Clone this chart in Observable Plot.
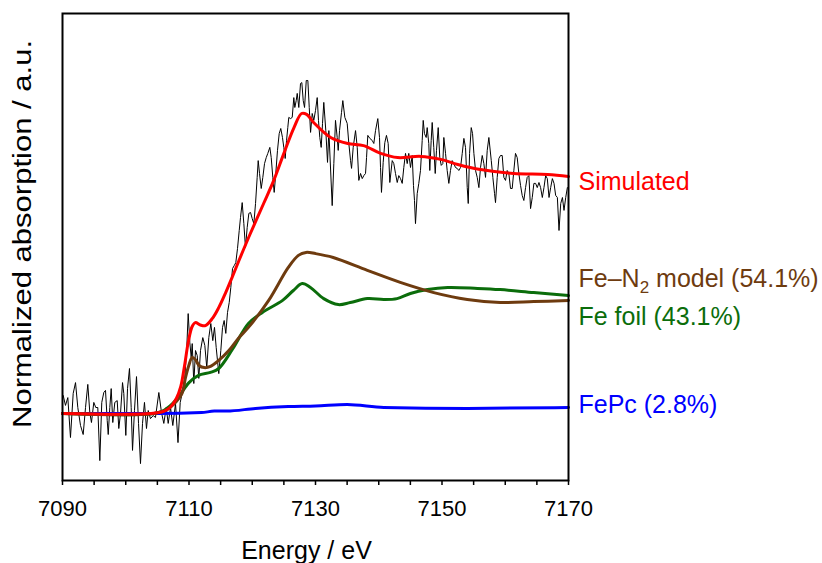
<!DOCTYPE html>
<html><head><meta charset="utf-8">
<script src="https://cdn.jsdelivr.net/npm/d3@7"></script>
<script src="https://cdn.jsdelivr.net/npm/@observablehq/plot@0.6"></script>
<style>body{margin:0;background:#fff;}</style>
</head><body><div id="chart"></div>
<script>
// Tick values (eV)
const energyTicks = [7090, 7110, 7130, 7150, 7170];
const minorTicks = [7090,7095,7100,7105,7110,7115,7120,7125,7130,7135,7140,7145,7150,7155,7160,7165,7170];

// Series labels and their label anchor levels (normalized units)
const seriesNames = ["Simulated", "Fe–N2 model (54.1%)", "Fe foil (43.1%)", "FePc (2.8%)"];
const labelMu = [0.77, 0.447, 0.323, 0.03];
const seriesColors = ["#ff0000", "#6e3b0f", "#0b6d0b", "#0000ff"];

// Measured spectrum [energy eV, normalized absorption]
const measured = [
[7090.11,0.060],[7090.47,0.027],[7090.84,0.053],[7091.26,-0.080],[7091.69,0.067],[7092.06,0.103],[7092.42,0.020],[7092.85,-0.040],[7093.27,-0.070],[7093.64,0.020],
[7094.0,0.097],[7094.32,0.003],[7094.58,-0.030],[7094.95,0.037],[7095.26,0.020],[7095.58,0.020],[7095.90,-0.157],[7096.21,0.037],[7096.53,0.070],[7096.80,0.077],
[7097.07,-0.023],[7097.23,-0.070],[7097.48,0.020],[7097.70,0.083],[7097.95,-0.030],[7098.27,0.037],[7098.65,0.043],[7098.90,-0.050],[7099.17,0],[7099.49,0.103],
[7099.69,0.067],[7100.01,-0.073],[7100.28,0.083],[7100.59,0.150],[7100.86,0.020],[7101.07,-0.123],[7101.38,0.010],[7101.70,0.123],[7102.02,-0.033],[7102.33,-0.167],
[7102.65,-0.033],[7102.96,0.037],[7103.28,-0.050],[7103.55,0.010],[7103.91,-0.017],[7104.34,-0.007],[7104.70,-0.013],
[7105.23,0.070],[7105.65,0.003],[7106.02,-0.033],[7106.40,0.020],[7106.71,-0.033],[7107.08,0.020],[7107.44,-0.040],[7107.87,0.033],[7108.26,-0.097],[7108.61,0.037],
[7109.02,0.077],[7109.34,0.120],[7109.65,0.220],[7109.87,0.333],[7110.13,0.237],[7110.35,0.187],[7110.51,0.233],[7110.76,0.100],[7111.03,0.210],[7111.30,0.193],
[7111.55,0.117],[7111.82,0.210],[7112.18,0.253],[7112.50,0.227],[7112.81,0.153],[7113.13,0.253],[7113.45,0.300],[7113.76,0.243],[7114.03,0.287],[7114.30,0.220],
[7114.71,0.133],[7115.03,0.210],[7115.30,0.287],[7115.56,0.310],[7115.82,0.267],[7116.09,0.337],[7116.36,0.370],[7116.61,0.420],[7116.88,0.483],[7117.15,0.493],
[7117.40,0.503],[7117.67,0.550],[7117.94,0.610],[7118.14,0.653],
[7118.41,0.703],[7118.67,0.633],[7118.93,0.553],[7119.20,0.620],[7119.46,0.667],[7119.73,0.670],[7119.99,0.650],[7120.25,0.633],[7120.52,0.700],[7120.78,0.787],
[7120.94,0.843],[7121.15,0.800],[7121.42,0.750],[7121.67,0.787],[7121.94,0.833],[7122.21,0.853],[7122.46,0.867],[7122.78,0.887],[7123.0,0.853],[7123.25,0.787],
[7123.47,0.737],[7123.72,0.800],[7123.99,0.877],[7124.26,0.933],[7124.51,0.950],[7124.78,0.920],[7124.99,0.887],[7125.21,0.850],[7125.42,0.910],[7125.62,0.953],
[7125.78,0.987],[7126.05,0.983],[7126.32,0.987],[7126.57,1.053],[7126.73,1.020],[7126.95,1.043],[7127.11,1.067],[7127.36,1.020],[7127.63,1.100],[7127.84,1.103],
[7128.06,1.043],[7128.27,1.020],[7128.54,1.110],[7128.79,1.110],[7129.01,1.020],[7129.22,0.937],[7129.48,1.000],[7129.73,0.977],[7130.0,1.010],[7130.27,1.053],
[7130.47,0.977],[7130.68,0.920],[7130.90,0.887],[7131.11,0.967],[7131.31,1.037],
[7131.63,0.943],[7131.90,0.837],[7132.11,0.943],[7132.64,0.693],[7132.90,0.833],[7133.16,0.977],[7133.43,0.920],[7133.59,0.877],[7133.80,0.943],[7134.11,1.003],
[7134.32,1.043],[7134.64,0.987],[7135.01,0.967],[7135.27,0.900],[7135.54,0.843],[7135.70,0.817],[7135.96,0.887],[7136.33,0.943],[7136.60,0.887],[7136.85,0.777],
[7137.12,0.800],[7137.39,0.783],[7137.64,0.793],[7137.91,0.800],[7138.07,0.853],[7138.27,0.927],[7138.59,0.917],[7138.97,0.910],[7139.22,0.900],[7139.49,0.943],
[7139.85,0.983],[7140.12,0.920],[7140.28,0.820],[7140.43,0.737],[7140.70,0.837],[7140.96,0.903],[7141.22,0.927],[7141.49,0.900],[7141.75,0.770],[7142.13,0.843],
[7142.38,0.833],[7142.65,0.800],[7142.92,0.770],[7143.17,0.793],[7143.44,0.783],[7143.71,0.767],
[7143.96,0.820],[7144.23,0.867],[7144.50,0.833],[7144.75,0.867],[7145.02,0.820],[7145.29,0.860],[7145.49,0.760],[7145.65,0.710],[7145.81,0.633],[7146.08,0.733],
[7146.33,0.767],[7146.60,0.810],[7146.87,0.910],[7147.03,0.977],[7147.23,0.933],[7147.50,0.920],[7147.66,0.953],[7147.91,0.900],[7148.07,0.810],[7148.29,0.910],
[7148.45,0.970],[7148.70,0.887],[7148.93,0.800],[7149.13,0.877],[7149.40,0.953],[7149.65,0.853],[7149.88,0.827],[7150.13,0.833],[7150.29,0.920],[7150.56,0.867],
[7150.82,0.810],[7151.08,0.767],[7151.34,0.810],[7151.61,0.843],[7151.87,0.833],[7152.13,0.820],[7152.40,0.817],[7152.66,0.810],[7152.93,0.820],[7153.20,0.867],
[7153.46,0.917],[7153.72,0.887],[7153.99,0.753],[7154.15,0.700],[7154.36,0.867],[7154.62,0.953],[7154.83,0.933],[7155.04,0.867],[7155.30,0.810],[7155.57,0.787],
[7155.83,0.753],[7156.09,0.820],[7156.36,0.860],[7156.62,0.833],[7156.88,0.787],[7157.15,0.877],[7157.41,0.920],
[7157.79,0.843],[7158.04,0.787],[7158.31,0.733],[7158.46,0.703],[7158.73,0.787],[7158.99,0.850],[7159.25,0.860],[7159.52,0.860],[7159.78,0.787],[7160.04,0.777],
[7160.31,0.810],[7160.57,0.800],[7160.83,0.750],[7161.10,0.750],[7161.36,0.810],[7161.62,0.867],[7161.89,0.853],[7162.15,0.800],[7162.42,0.760],[7162.68,0.727],
[7162.94,0.710],[7163.21,0.753],[7163.47,0.787],[7163.74,0.793],[7164.0,0.683],[7164.27,0.720],[7164.53,0.767],[7164.80,0.767],[7165.06,0.753],[7165.33,0.770],
[7165.59,0.753],[7165.86,0.720],[7166.12,0.753],[7166.39,0.793],[7166.65,0.783],[7166.92,0.720],[7167.18,0.753],[7167.45,0.783],[7167.71,0.767],[7167.97,0.727],
[7168.24,0.720],[7168.50,0.610],[7168.77,0.700],[7169.04,0.720],[7169.29,0.677],[7169.56,0.720],[7169.82,0.753]
];

// Simulated fit
const simulated = [
[7090,0],[7104,0],[7106,0.007],[7107,0.02],[7108,0.05],[7108.7,0.09],[7109.3,0.16],[7109.9,0.24],[7110.5,0.29],[7111.0,0.303],
[7111.8,0.295],[7112.6,0.293],[7113.7,0.317],[7114.7,0.353],[7115.8,0.403],[7116.8,0.453],[7117.9,0.51],[7119.7,0.6],[7121.8,0.7],[7123.4,0.777],
[7125,0.867],[7126.6,0.953],[7127.8,1.0],[7128.6,0.997],[7129.7,0.97],[7132.4,0.92],[7135.1,0.9],[7137.6,0.893],[7140.3,0.867],[7143,0.853],
[7146.6,0.857],[7149.8,0.847],[7152.5,0.83],[7156.1,0.813],[7161.3,0.8],[7166.7,0.797],[7170,0.79]
];

// Fe–N2 model component
const feN2 = [
[7090,0],[7104.5,0],[7106.5,0.013],[7108,0.04],[7108.9,0.067],[7109.45,0.12],[7109.97,0.16],[7110.5,0.187],[7111.0,0.18],[7111.6,0.16],
[7112.4,0.153],[7113.4,0.157],[7114.7,0.177],[7116.3,0.21],[7117.9,0.253],[7119.4,0.287],[7122.6,0.377],[7125.7,0.487],[7127.3,0.527],[7128.5,0.537],
[7130,0.533],[7132.8,0.52],[7138.2,0.477],[7143.4,0.437],[7148.7,0.403],[7154,0.38],[7159.2,0.37],[7164.5,0.373],[7170,0.377]
];

// Fe foil component
const feFoil = [
[7090,0],[7104.5,0],[7106,0.01],[7107.4,0.033],[7108.5,0.06],[7110,0.103],[7111.5,0.127],[7113.4,0.137],[7114.7,0.15],[7116.9,0.215],
[7119.4,0.3],[7121.6,0.337],[7124.8,0.377],[7126.5,0.41],[7127.9,0.433],[7129.2,0.42],[7131.3,0.383],[7133.6,0.363],[7135.5,0.37],[7138.2,0.383],
[7140.8,0.38],[7142.9,0.383],[7145,0.4],[7147.7,0.413],[7150.9,0.42],[7155.6,0.417],[7159.2,0.413],[7164.5,0.403],[7170,0.393]
];

// FePc component
const fePc = [
[7090,0],[7105,0],[7112,0.003],[7114,0.008],[7116,0.008],[7120.5,0.017],[7125.7,0.023],[7130,0.025],[7135,0.03],[7140.8,0.02],[7154,0.017],[7170,0.02]
];

const labelRows = seriesNames.map((name, i) => ({name, mu: labelMu[i], color: seriesColors[i]}));
const X = d => d[0], Y = d => d[1];

const plot = Plot.plot({
  width: 822, height: 563,
  marginLeft: 62, marginRight: 254, marginTop: 13, marginBottom: 83,
  x: {domain: [7090, 7170]},
  y: {domain: [-0.2233, 1.3333], axis: null},
  style: {fontFamily: "'Liberation Sans', Arial, sans-serif", fontSize: "22px", background: "white", color: "black"},
  marks: [
    Plot.line(measured, {x: X, y: Y, stroke: "black", strokeWidth: 1}),
    Plot.line(fePc, {x: X, y: Y, stroke: seriesColors[3], strokeWidth: 3, curve: "monotone-x"}),
    Plot.line(feFoil, {x: X, y: Y, stroke: seriesColors[2], strokeWidth: 3, curve: "catmull-rom"}),
    Plot.line(feN2, {x: X, y: Y, stroke: seriesColors[1], strokeWidth: 3, curve: "catmull-rom"}),
    Plot.line(simulated, {x: X, y: Y, stroke: seriesColors[0], strokeWidth: 3, curve: "catmull-rom"}),
    Plot.frame({stroke: "black", strokeWidth: 2}),
    Plot.axisX({ticks: minorTicks, tickSize: 5, tickPadding: 15, strokeWidth: 1.5,
      tickFormat: d => energyTicks.includes(d) ? String(d) : "", label: null, fontSize: 22}),
    Plot.text(labelRows, {x: () => 7170, y: "mu", text: "name", fill: "color", dx: 10, textAnchor: "start", fontSize: 25}),
    Plot.text(["Energy / eV"], {frameAnchor: "bottom", lineAnchor: "middle", textAnchor: "middle", dy: 70, dx: -9, fontSize: 25}),
    Plot.text(["Normalized absorption / a.u."], {frameAnchor: "left", lineAnchor: "middle", textAnchor: "middle", rotate: -90, dx: -40, dy: -13, fontSize: 25})
  ]
});

d3.select(plot).selectAll("text").each(function() {
  const t = this.textContent;
  // subscript for N2
  if (t === "Fe–N2 model (54.1%)" && this.children.length === 0) {
    const s = d3.select(this);
    s.text(null);
    s.append("tspan").text("Fe–N");
    s.append("tspan").attr("dy", 6).attr("font-size", 17).text("2");
    s.append("tspan").attr("dy", -6).text(" model (54.1%)");
  }
  // the reference's vertical label is drawn longer along its axis
  if (t === "Normalized absorption / a.u.") {
    d3.select(this).attr("textLength", 388).attr("lengthAdjust", "spacingAndGlyphs");
  }
});

document.getElementById("chart").appendChild(plot);
</script>
</body></html>
